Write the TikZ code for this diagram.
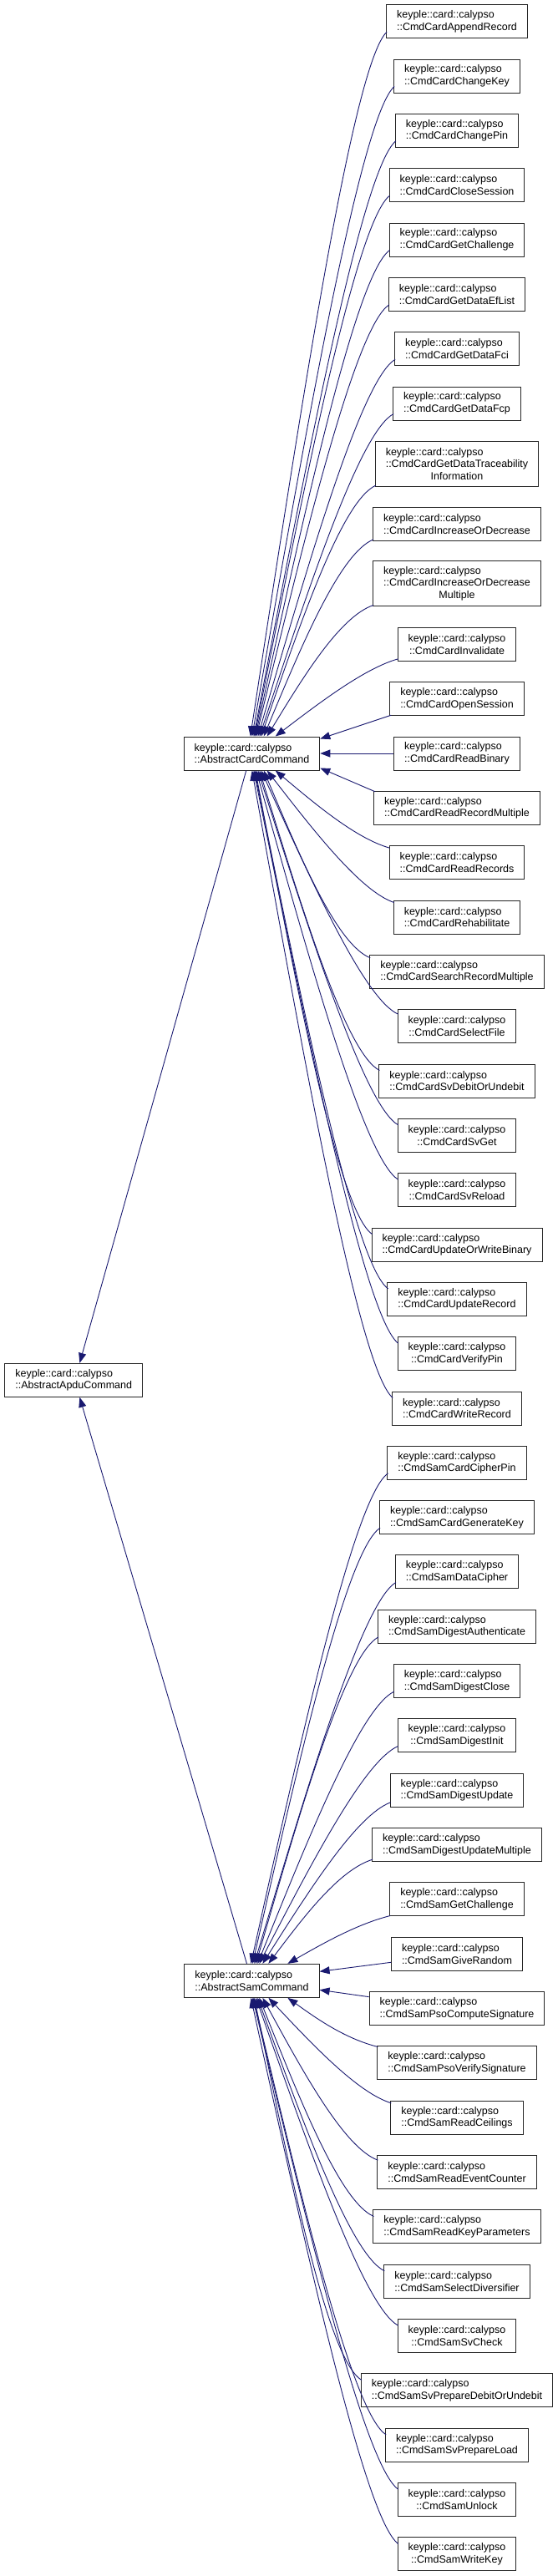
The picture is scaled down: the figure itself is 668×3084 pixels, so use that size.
\documentclass[tikz,border=0pt]{standalone}
\usepackage{fontspec}
\setmainfont{Liberation Sans}
\usetikzlibrary{arrows.meta,calc}
\definecolor{dxblue}{RGB}{25,25,112}
\newsavebox\dxboxa \newsavebox\dxboxb \newsavebox\dxboxc
\newlength\dxwd
\newcommand\dxlab[2]{%
  \sbox\dxboxa{#1}\sbox\dxboxb{#2}%
  \setlength\dxwd{\wd\dxboxa}\ifdim\wd\dxboxb>\dxwd \setlength\dxwd{\wd\dxboxb}\fi
  \vbox{\hbox to\dxwd{\usebox\dxboxa\hfil}\hbox to\dxwd{\hfil\usebox\dxboxb\hfil}}}
\newcommand\dxlabc[3]{%
  \sbox\dxboxa{#1}\sbox\dxboxb{#2}\sbox\dxboxc{#3}%
  \setlength\dxwd{\wd\dxboxa}\ifdim\wd\dxboxb>\dxwd \setlength\dxwd{\wd\dxboxb}\fi
  \ifdim\wd\dxboxc>\dxwd \setlength\dxwd{\wd\dxboxc}\fi
  \vbox{\hbox to\dxwd{\usebox\dxboxa\hfil}\hbox to\dxwd{\usebox\dxboxb\hfil}\hbox to\dxwd{\hfil\usebox\dxboxc\hfil}}}
\tikzset{
  box/.style={draw=black!85, line width=1pt, fill=white, inner xsep=12.5pt, inner ysep=0pt,
    minimum height=40pt, font=\fontsize{12.5}{14.5}\selectfont},
  boxc/.style={box, minimum height=54.5pt},
  inh/.style={draw=dxblue, line width=0.9pt, -{Triangle[length=12pt,width=9pt,fill=dxblue]}}
}
\newcommand\dxcurve[3]{%
  \draw[inh] let \p1=#1, \p2=#2, \n1={\y1-0.035*(\y1-\y2)-(#3)*8} in
  (\p1) .. controls ({\x1-40pt},{\n1*1pt}) and ({0.5*\x1-20pt+0.5*\x2},{0.5*\n1*1pt+0.5*\y2}) .. (\p2);}
\newcommand\dxup[4]{\dxcurve{($(#1.south west)+(1,-#4)$)}{($(#2.north west)+(#3,0)$)}{1}}
\newcommand\dxdn[4]{\dxcurve{($(#1.north west)+(1,#4)$)}{($(#2.south west)+(#3,0)$)}{-1}}
\begin{document}
\begin{tikzpicture}[x=1pt,y=-1pt]
\fill[white] (0,0) rectangle (668,3084);
\useasboundingbox (0,0) rectangle (668,3084);

% parents
\node[box] (apdu) at (88.2,1652.3) {\dxlab{keyple::card::calypso}{::AbstractApduCommand}};
\node[box] (card) at (301.5,902) {\dxlab{keyple::card::calypso}{::AbstractCardCommand}};
\node[box] (sam) at (301.5,2371.3) {\dxlab{keyple::card::calypso}{::AbstractSamCommand}};

% card children
\foreach \nd/\yy/\tt in {k0/25.7/AppendRecord, k1/91/ChangeKey, k2/156.3/ChangePin,
  k3/221.7/CloseSession, k4/287/GetChallenge, k5/352.3/GetDataEfList, k6/417.7/GetDataFci,
  k7/483/GetDataFcp, k9/627.3/IncreaseOrDecrease, k11/771.3/Invalidate, k12/836.7/OpenSession,
  k13/902/ReadBinary, k14/967.3/ReadRecordMultiple, k15/1032.7/ReadRecords,
  k16/1098/Rehabilitate, k17/1163.3/SearchRecordMultiple, k18/1228.7/SelectFile,
  k19/1294/SvDebitOrUndebit, k20/1359.3/SvGet, k21/1424.7/SvReload,
  k22/1490/UpdateOrWriteBinary, k23/1555.3/UpdateRecord, k24/1620.7/VerifyPin,
  k25/1686/WriteRecord}
  \node[box] (\nd) at (547,\yy) {\dxlab{keyple::card::calypso}{::CmdCard\tt}};
\node[boxc] (k8) at (547,555.4) {\dxlabc{keyple::card::calypso}{::CmdCardGetDataTraceability}{Information}};
\node[boxc] (k10) at (547,698.7) {\dxlabc{keyple::card::calypso}{::CmdCardIncreaseOrDecrease}{Multiple}};

% sam children
\foreach \ii/\tt in {0/CardCipherPin, 1/CardGenerateKey, 2/DataCipher, 3/DigestAuthenticate,
  4/DigestClose, 5/DigestInit, 6/DigestUpdate, 7/DigestUpdateMultiple, 8/GetChallenge,
  9/GiveRandom, 10/PsoComputeSignature, 11/PsoVerifySignature, 12/ReadCeilings,
  13/ReadEventCounter, 14/ReadKeyParameters, 15/SelectDiversifier, 16/SvCheck,
  17/SvPrepareDebitOrUndebit, 18/SvPrepareLoad, 19/Unlock, 20/WriteKey}
  \node[box] (s\ii) at (547,{1751.3+65.333*\ii}) {\dxlab{keyple::card::calypso}{::CmdSam\tt}};

% edges to AbstractApduCommand
\draw[inh] ($(card.south west)+(75,0)$) -- ($(apdu.north west)+(90,0)$);
\draw[inh] ($(sam.north west)+(75,0)$) -- ($(apdu.south west)+(90,0)$);

% edges to AbstractCardCommand
\foreach \nd/\ex/\off in {k0/80/8, k1/82/8, k2/84/8, k3/85/8, k4/86/8, k5/87/8, k6/89/8,
  k7/91/8, k8/93/2, k9/96/2, k10/100/2, k11/110/3}
  \dxup{\nd}{card}{\ex}{\off};
\foreach \nd/\ex/\off in {k15/110/3, k16/100/3, k17/96/4, k18/93/6, k19/91/8, k20/89/8,
  k21/87/8, k22/86/8, k23/85/8, k24/84/8, k25/82/8}
  \dxdn{\nd}{card}{\ex}{\off};
\draw[inh] ($(k12.south west)+(2,-1)$) -- ($(card.north east)+(0,3)$);
\draw[inh] (k13.west) -- (card.east);
\draw[inh] ($(k14.north west)+(2,1)$) -- ($(card.south east)+(0,-3)$);

% edges to AbstractSamCommand
\foreach \nd/\ex/\off in {s0/80/8, s1/82/8, s2/84/8, s3/86/8, s4/88/8, s5/90/8,
  s6/94/6, s7/101/3, s8/124/1}
  \dxup{\nd}{sam}{\ex}{\off};
\foreach \nd/\ex/\off in {s11/124/1, s12/101/3, s13/94/6, s14/90/8, s15/88/8, s16/86/8,
  s17/84/8, s18/83/8, s19/82/8, s20/80/8}
  \dxdn{\nd}{sam}{\ex}{\off};
\draw[inh] ($(s9.west)+(0,10)$) -- ($(sam.east)+(0,-11)$);
\draw[inh] ($(s10.west)+(0,-14)$) -- ($(sam.east)+(0,11)$);
\end{tikzpicture}
\end{document}
